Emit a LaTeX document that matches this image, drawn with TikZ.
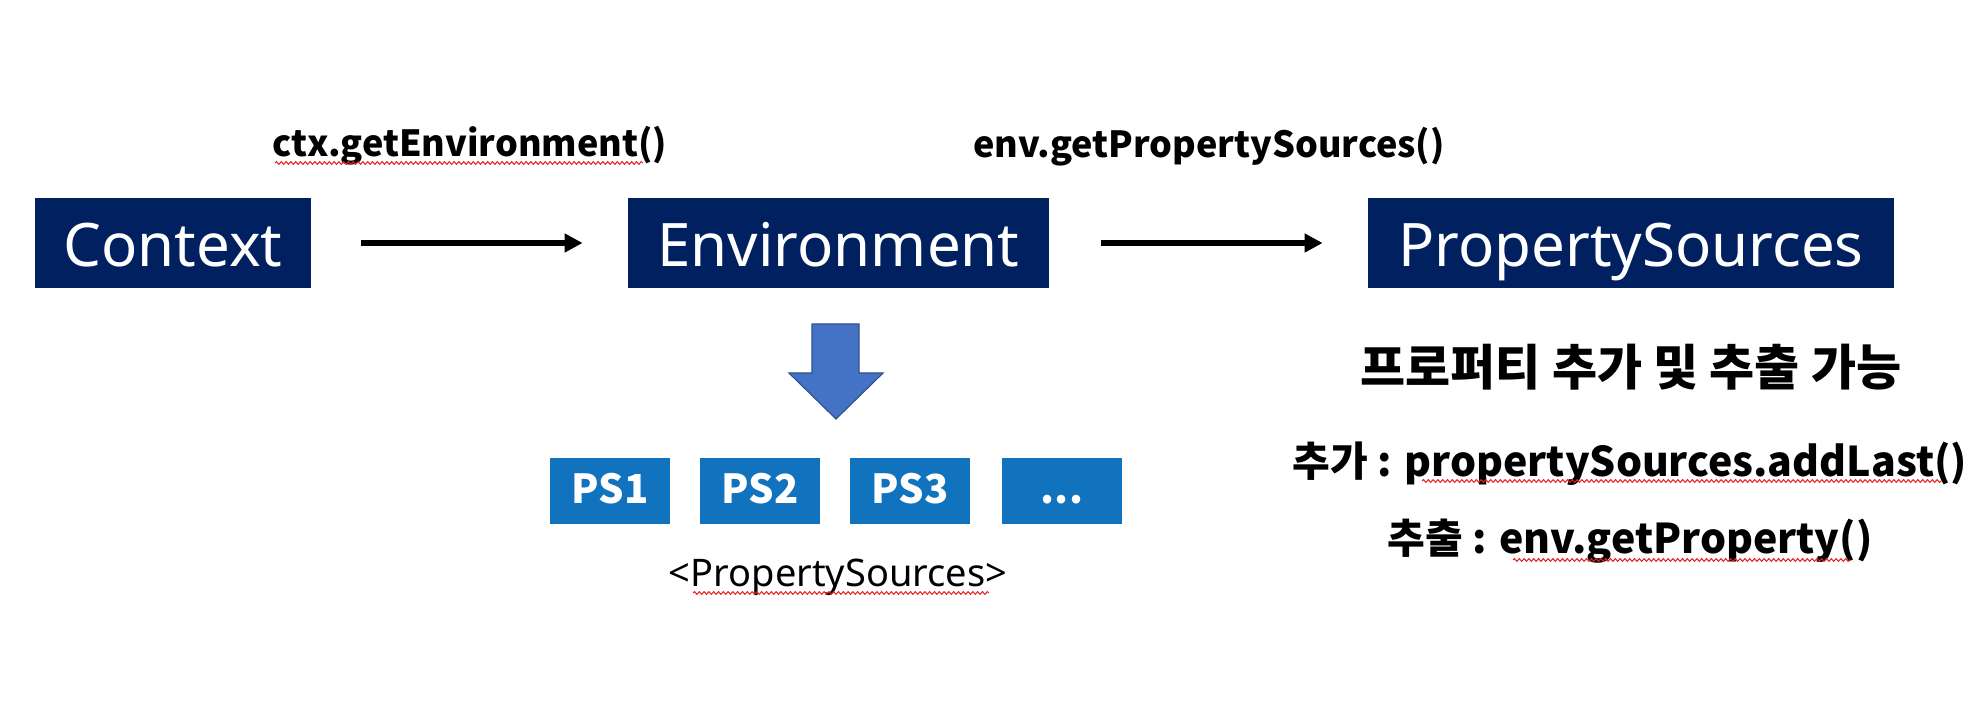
\documentclass[tikz,border=0pt]{standalone}
\usepackage{fontspec}
\setmainfont{Noto Sans}
\newfontfamily\kr{Noto Sans CJK KR}
\usetikzlibrary{arrows.meta,decorations.pathmorphing}
\definecolor{navy}{RGB}{0,32,96}
\definecolor{psblue}{RGB}{17,114,190}
\definecolor{blockblue}{RGB}{68,114,196}
\definecolor{blockedge}{RGB}{47,82,143}
\definecolor{squigred}{RGB}{232,30,30}

\begin{document}
\begin{tikzpicture}[x=0.5pt,y=-0.5pt,
  mainbox/.style={fill=navy, text=white, inner sep=0, minimum height=45pt,
    text height=30pt, text depth=6pt, font=\fontsize{30}{36}\selectfont},
  psbox/.style={fill=psblue, text=white, inner sep=0, minimum width=60pt, minimum height=33pt,
    text height=16pt, text depth=3pt, font=\fontsize{20}{24}\selectfont\kr\bfseries},
  callarrow/.style={-{Triangle[length=9pt,width=9pt]}, line width=3pt},
  calllabel/.style={anchor=base, inner sep=0, font=\fontsize{18}{22}\selectfont\kr\bfseries},
  note/.style={anchor=base, inner sep=0, font=\fontsize{20.5}{25}\selectfont\kr\bfseries},
  squiggle/.style={draw=squigred, line width=0.5pt, decorate,
    decoration={snake, amplitude=0.7pt, segment length=2.4pt}}
]
\useasboundingbox (0,0) rectangle (1988,716);

% Call chain (top row)
\node[mainbox, minimum width=138pt] (ctx) at (173,243) {Context};
\node[mainbox, minimum width=210.5pt] (env) at (838.5,243) {Environment};
\node[mainbox, minimum width=263pt] (srcs) at (1631,243) {PropertySources};

\draw[callarrow, shorten <=25pt, shorten >=22.5pt] (ctx) -- (env);
\draw[callarrow, shorten <=26pt, shorten >=22.5pt] (env) -- (srcs);

% Method calls above the arrows
\node[calllabel] (getenv) at (470,157) {ctx.getEnvironment()};
\node[calllabel] (getsrcs) at (1209,158) {env.getPropertySources()};
\draw[squiggle] (275,163) -- (643,163);

% Block arrow down to the list
\draw[fill=blockblue, draw=blockedge, line width=0.6pt]
  (812,324) -- (859,324) -- (859,373) -- (883,373) -- (836,419) -- (789,373) -- (812,373) -- cycle;

% PropertySources list
\node[psbox] (ps1) at (610,491) {PS1};
\node[psbox] (ps2) at (760,491) {PS2};
\node[psbox] (ps3) at (910,491) {PS3};
\node[psbox] (psmore) at (1062,491) {...};
\node[anchor=base, inner sep=0, font=\fontsize{19}{23}\selectfont] (pslabel) at (838,587) {<PropertySources>};
\draw[squiggle] (693,593) -- (989,593);

% Notes (right)
\node[note, font=\fontsize{24.5}{29}\selectfont\kr\bfseries] (cando) at (1631,386) {프로퍼티 추가 및 추출 가능};
\node[note] (addline) at (1630,477) {추가 : propertySources.addLast()};
\node[note] (getline) at (1630,553) {추출 : env.getProperty()};
\draw[squiggle] (1422,481) -- (1942,481);
\draw[squiggle] (1513,560) -- (1850,560);

\end{tikzpicture}
\end{document}
